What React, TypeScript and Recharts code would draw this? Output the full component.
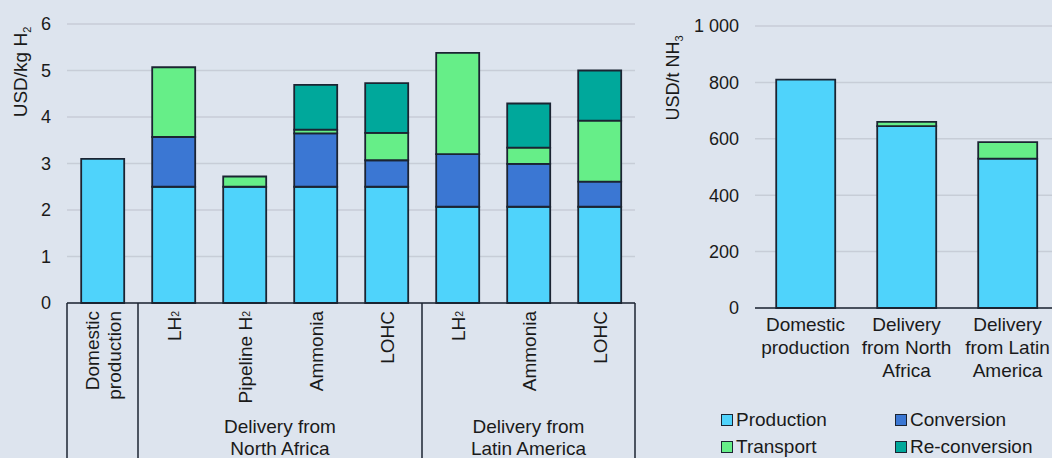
import React from 'react';
import { BarChart, Bar, XAxis, YAxis, CartesianGrid } from 'recharts';

// ---------- data: hydrogen delivery cost (USD/kg H2) ----------
const h2Keys = ['dom', 'na-lh2', 'na-pipe', 'na-nh3', 'na-lohc', 'la-lh2', 'la-nh3', 'la-lohc'];
const h2Labels: string[][] = [
  ['Domestic', 'production'],
  ['LH|2'],
  ['Pipeline H|2'],
  ['Ammonia'],
  ['LOHC'],
  ['LH|2'],
  ['Ammonia'],
  ['LOHC'],
];
const h2Production = [3.1, 2.5, 2.5, 2.5, 2.5, 2.07, 2.07, 2.07];
const h2Conversion = [0, 1.07, 0, 1.15, 0.57, 1.13, 0.92, 0.54];
const h2Transport = [0, 1.5, 0.22, 0.08, 0.59, 2.18, 0.35, 1.31];
const h2Reconversion = [0, 0, 0, 0.96, 1.07, 0, 0.95, 1.08];
const h2Ticks = [0, 1, 2, 3, 4, 5, 6];
const groupNA = ['Delivery from', 'North Africa'];
const groupLA = ['Delivery from', 'Latin America'];

// ---------- data: ammonia cost (USD/t NH3) ----------
const nh3Keys = ['dom', 'na', 'la'];
const nh3Labels: string[][] = [
  ['Domestic', 'production'],
  ['Delivery', 'from North', 'Africa'],
  ['Delivery', 'from Latin', 'America'],
];
const nh3Production = [810, 645, 530];
const nh3Transport = [0, 15, 58];
const nh3Ticks = [0, 200, 400, 600, 800, 1000];

const seriesNames = ['Production', 'Conversion', 'Transport', 'Re-conversion'];
const seriesColors = ['#4fd3fb', '#3b77d3', '#66ee88', '#00a89b'];

const h2Data = h2Keys.map((k, i) => ({
  key: k,
  production: h2Production[i],
  conversion: h2Conversion[i],
  transport: h2Transport[i],
  reconversion: h2Reconversion[i],
}));
const nh3Data = nh3Keys.map((k, i) => ({
  key: k,
  production: nh3Production[i],
  transport: nh3Transport[i],
}));

// ---------- layout ----------
const BG = '#dde4ee';
const GRID = '#c7cdd7';
const EDGE = '#1b2432';
const TEXT = '#1a1a1a';
const FONT = '"Liberation Sans", Arial, sans-serif';
const SW = 1.8;

const L_W = 650, L_H = 458, L_YW = 67, L_MR = 15, L_MT = 24, L_XH = 155;
const L_BAND = (L_W - L_YW - L_MR) / h2Keys.length;
const R_W = 410, R_H = 458, R_YW = 105, R_MR = 2, R_MT = 26, R_XH = 150;

const renderSub = (s: string, fs: number) => {
  const parts = s.split('|');
  if (parts.length === 1) return s;
  return [
    <tspan key="a">{parts[0]}</tspan>,
    <tspan key="b" fontSize={fs * 0.55} dy={-fs * 0.1}>{parts[1]}</tspan>,
  ];
};

const H2Tick = (props: any) => {
  const { x, y, payload } = props;
  const i = payload.index;
  const fs = 19;
  const lines = h2Labels[i] || [];
  const n = lines.length;
  const lh = 22;
  const els: any[] = [];
  lines.forEach((ln, j) => {
    const bx = x + 7 + (j - (n - 1) / 2) * lh;
    const ty = y + 8;
    els.push(
      <text
        key={'t' + j}
        x={bx}
        y={ty}
        transform={`rotate(-90, ${bx}, ${ty})`}
        textAnchor="end"
        fontSize={fs}
        fill={TEXT}
        fontFamily={FONT}
      >
        {renderSub(ln, fs)}
      </text>
    );
  });
  const bottom = y + L_XH;
  const vline = (vx: number, k: string) => (
    <line key={k} x1={vx} x2={vx} y1={y} y2={bottom} stroke={EDGE} strokeWidth={1.5} />
  );
  if (i === 0) {
    els.push(vline(x - L_BAND / 2, 'l0'));
    els.push(vline(x + L_BAND / 2, 'l1'));
  }
  if (i === 4 || i === 7) els.push(vline(x + L_BAND / 2, 'l' + i));
  const group = (gx: number, g: string[]) =>
    g.map((t, j) => (
      <text key={'g' + j} x={gx} y={y + 130 + j * 22} textAnchor="middle" fontSize={19} fill={TEXT} fontFamily={FONT}>
        {t}
      </text>
    ));
  if (i === 1) els.push(...group(x + 1.5 * L_BAND, groupNA));
  if (i === 5) els.push(...group(x + L_BAND, groupLA));
  return <g>{els}</g>;
};

const NH3Tick = (props: any) => {
  const { x, y, payload } = props;
  const lines = nh3Labels[payload.index] || [];
  return (
    <g>
      {lines.map((t, j) => (
        <text key={j} x={x} y={y + 23 + j * 23} textAnchor="middle" fontSize={19} fill={TEXT} fontFamily={FONT}>
          {t}
        </text>
      ))}
    </g>
  );
};

const fmtThousands = (v: number) => String(v).replace(/\B(?=(\d{3})+(?!\d))/g, ' ');

const LegendBox = () => (
  <div
    style={{
      position: 'absolute',
      left: 721,
      top: 408,
      display: 'grid',
      gridTemplateColumns: '174px 160px',
      rowGap: 4,
      fontFamily: FONT,
      fontSize: 19,
      color: TEXT,
    }}
  >
    {seriesNames.map((n, i) => (
      <div key={n} style={{ display: 'flex', alignItems: 'center', height: 23, whiteSpace: 'nowrap' }}>
        <span
          style={{
            display: 'inline-block',
            width: 10,
            height: 10,
            background: seriesColors[i],
            border: `1.5px solid ${EDGE}`,
            marginRight: 3,
          }}
        />
        {n}
      </div>
    ))}
  </div>
);

export default function App() {
  return (
    <div
      style={{
        position: 'absolute',
        left: 0,
        top: 0,
        width: 1052,
        height: 458,
        background: BG,
        overflow: 'hidden',
        fontFamily: FONT,
      }}
    >
      <div style={{ position: 'absolute', left: 0, top: 0 }}>
        <BarChart
          width={L_W}
          height={L_H}
          data={h2Data}
          margin={{ top: L_MT, right: L_MR, left: 0, bottom: 0 }}
          barCategoryGap="20%"
        >
          <CartesianGrid vertical={false} stroke={GRID} strokeWidth={1.5} />
          <XAxis
            dataKey="key"
            height={L_XH}
            interval={0}
            tickLine={false}
            tickSize={0}
            tickMargin={0}
            axisLine={{ stroke: EDGE, strokeWidth: 1.5 }}
            tick={<H2Tick />}
          />
          <YAxis
            width={L_YW}
            domain={[0, 6]}
            ticks={h2Ticks}
            interval={0}
            axisLine={false}
            tickLine={false}
            tickMargin={10}
            tick={{ fontSize: 18, fill: TEXT, fontFamily: FONT }}
            label={{
              content: () => (
                <text
                  x={27}
                  y={72}
                  transform="rotate(-90, 27, 72)"
                  textAnchor="middle"
                  fontSize={19}
                  fill={TEXT}
                  fontFamily={FONT}
                >
                  <tspan>USD/kg H</tspan>
                  <tspan fontSize={11} dy={4}>2</tspan>
                </text>
              ),
            }}
          />
          <Bar dataKey="production" stackId="a" fill={seriesColors[0]} stroke={EDGE} strokeWidth={SW} isAnimationActive={false} />
          <Bar dataKey="conversion" stackId="a" fill={seriesColors[1]} stroke={EDGE} strokeWidth={SW} isAnimationActive={false} />
          <Bar dataKey="transport" stackId="a" fill={seriesColors[2]} stroke={EDGE} strokeWidth={SW} isAnimationActive={false} />
          <Bar dataKey="reconversion" stackId="a" fill={seriesColors[3]} stroke={EDGE} strokeWidth={SW} isAnimationActive={false} />
        </BarChart>
      </div>
      <div style={{ position: 'absolute', left: 650, top: 0 }}>
        <BarChart
          width={R_W}
          height={R_H}
          data={nh3Data}
          margin={{ top: R_MT, right: R_MR, left: 0, bottom: 0 }}
          barCategoryGap="21%"
        >
          <CartesianGrid vertical={false} stroke={GRID} strokeWidth={1.5} />
          <XAxis
            dataKey="key"
            height={R_XH}
            interval={0}
            tickLine={false}
            tickSize={0}
            tickMargin={0}
            axisLine={{ stroke: EDGE, strokeWidth: 1.5 }}
            tick={<NH3Tick />}
          />
          <YAxis
            width={R_YW}
            domain={[0, 1000]}
            ticks={nh3Ticks}
            interval={0}
            axisLine={false}
            tickLine={false}
            tickMargin={10}
            tickFormatter={fmtThousands}
            tick={{ fontSize: 18, fill: TEXT, fontFamily: FONT }}
            label={{
              content: () => (
                <text
                  x={29}
                  y={78}
                  transform="rotate(-90, 29, 78)"
                  textAnchor="middle"
                  fontSize={18}
                  fill={TEXT}
                  fontFamily={FONT}
                >
                  <tspan>USD/t NH</tspan>
                  <tspan fontSize={11} dy={4}>3</tspan>
                </text>
              ),
            }}
          />
          <Bar dataKey="production" stackId="a" fill={seriesColors[0]} stroke={EDGE} strokeWidth={SW} isAnimationActive={false} />
          <Bar dataKey="transport" stackId="a" fill={seriesColors[2]} stroke={EDGE} strokeWidth={SW} isAnimationActive={false} />
        </BarChart>
      </div>
      <LegendBox />
    </div>
  );
}
